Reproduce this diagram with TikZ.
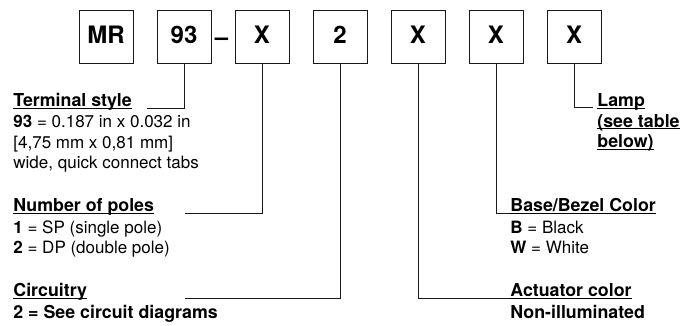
\documentclass[tikz,border=0pt]{standalone}
\usepackage{fontspec}
\setmainfont{TeX Gyre Heros}
\usetikzlibrary{positioning}
\newsavebox\ulbox
\newcommand\ulin[1]{\sbox\ulbox{#1}\rlap{\rule[-1.8pt]{\wd\ulbox}{0.9pt}}\usebox\ulbox}

\begin{document}
\begin{tikzpicture}[x=1pt,y=-1pt,line width=0.8pt,draw=black!90]
    \tikzstyle{codebox}=[draw, minimum width=54pt, minimum height=53pt, inner sep=0pt, text height=18pt, text depth=4pt, font=\fontsize{24}{24}\selectfont\bfseries]
    \tikzstyle{head}=[anchor=base west, inner sep=0pt, align=left, font=\fontsize{17.8}{20.5}\selectfont\bfseries]
    \tikzstyle{desc}=[anchor=base west, inner sep=0pt, align=left, font=\fontsize{17}{20.5}\selectfont]

    \useasboundingbox (0,0) rectangle (697,326);

    % code boxes
    \foreach \name/\lbl [count=\i from 0] in {mr/MR, term/93, poles/X, circ/2, act/X, base/X, lamp/X}{
        \pgfmathsetmacro\x{106+78*\i}
        \node[codebox] (B-\name) at (\x,36.5) {\lbl};
    }
    \node[inner sep=0pt, anchor=base, font=\fontsize{24}{24}\selectfont\bfseries] (dash) at (221.5,46) {--};

    % left labels (multi-line nodes sit on their last baseline)
    \node[head] (L-term) at (13,107) {\ulin{Terminal style}};
    \node[desc] (D-term) at (13,169) {\textbf{93} = 0.187 in x 0.032 in\\{[4,75 mm x 0,81 mm]}\\wide, quick connect tabs};
    \node[head] (L-poles) at (13,212) {\ulin{Number of poles}};
    \node[desc] (D-poles) at (13,254) {\textbf{1} = SP (single pole)\\\textbf{2} = DP (double pole)};
    \node[head] (L-circ) at (13,297) {\ulin{Circuitry}};
    \node[head] (D-circ) at (13,318) {2 = See circuit diagrams};

    % right labels
    \node[head] (L-lamp) at (597,148) {\ulin{Lamp}\\\ulin{(see table}\\\ulin{below)}};
    \node[head] (L-base) at (510,212) {\ulin{Base/Bezel Color}};
    \node[desc] (D-base) at (510,254) {\textbf{B} = Black\\\textbf{W} = White};
    \node[head] (L-act) at (510,297) {\ulin{Actuator color}};
    \node[head] (D-act) at (510,318) {Non-illuminated};

    % connector ends
    \coordinate (E-term) at (147,108);
    \coordinate (E-poles) at (185,213);
    \coordinate (E-circ) at (185,298);
    \coordinate (E-lamp) at (593,107);

    \draw (B-term.south) |- (E-term);
    \draw (B-poles.south) |- (E-poles);
    \draw (B-circ.south) |- (E-circ);
    \draw (B-act.south) |- ([yshift=-1.5pt]L-act.base west);
    \draw (B-base.south) |- ([yshift=-1.5pt]L-base.base west);
    \draw (B-lamp.south) |- (E-lamp);
\end{tikzpicture}
\end{document}
